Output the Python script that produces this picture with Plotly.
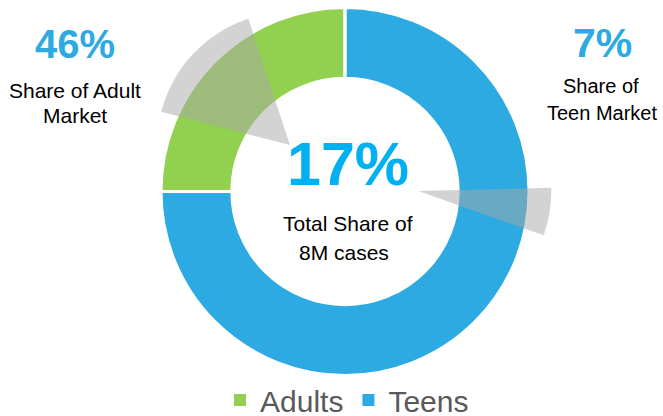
import plotly.graph_objects as go

# ---- data ----
segments = ["Adults", "Teens"]
segment_share = [25, 75]
segment_colors = ["#92D050", "#2DAAE1"]

# gray call-out wedges (share of a full circle, and start angle in degrees clockwise from 12 o'clock)
callout_names = ["Adult market callout", "Teen market callout"]
callout_share = [15.9, 5.8]
callout_start = [284.5, 88.6]

headline_value = "17%"
headline_lines = ["Total Share of", "8M cases"]
adult_value = "46%"
adult_lines = ["Share of Adult", "Market"]
teen_value = "7%"
teen_lines = ["Share of", "Teen Market"]

# ---- layout constants (pixels) ----
W, H = 663, 416
FONT = "Arial, 'Liberation Sans', sans-serif"


def dom(cx, cy, r):
    return dict(x=[(cx - r) / W, (cx + r) / W], y=[(H - cy - r) / H, (H - cy + r) / H])


fig = go.Figure()

main_dom = dom(345, 191.5, 184)
fig.add_trace(go.Pie(
    labels=segments, values=segment_share, sort=False, direction="clockwise",
    rotation=270, hole=0.615, textinfo="none", hoverinfo="skip",
    marker=dict(colors=segment_colors, line=dict(width=0)),
    domain=main_dom, showlegend=True,
))
# white separators between the slices
fig.add_trace(go.Pie(
    labels=[s + " edge" for s in segments], values=segment_share, sort=False, direction="clockwise",
    rotation=270, hole=0.615, textinfo="none", hoverinfo="skip",
    marker=dict(colors=["rgba(0,0,0,0)"] * len(segments), line=dict(color="white", width=3)),
    domain=main_dom, showlegend=False,
))

callout_geom = [(290, 145, 133), (418.3, 191, 133)]
for name, share, start, (cx, cy, r) in zip(callout_names, callout_share, callout_start, callout_geom):
    fig.add_trace(go.Pie(
        labels=[name, name + " rest"], values=[share, 100 - share], sort=False,
        direction="clockwise", rotation=start, textinfo="none", hoverinfo="skip",
        marker=dict(colors=["rgba(167,167,167,0.5)", "rgba(0,0,0,0)"], line=dict(width=0)),
        domain=dom(cx, cy, r), showlegend=False,
    ))


def ann(text, x, y, size, color, bold=False):
    fig.add_annotation(
        text=f"<b>{text}</b>" if bold else text, x=x / W, y=1 - y / H, xref="paper", yref="paper",
        xanchor="center", yanchor="middle", showarrow=False,
        font=dict(family=FONT, size=size, color=color),
    )


ann(headline_value, 348, 164.2, 61, "#00B0F0", bold=True)
ann(headline_lines[0], 348, 223, 21, "#000000")
ann(headline_lines[1], 344, 252.5, 21, "#000000")

ann(adult_value, 75, 43.5, 40, "#2DAAE1", bold=True)
ann(adult_lines[0], 75, 90, 21, "#000000")
ann(adult_lines[1], 75, 115.3, 21, "#000000")

ann(teen_value, 602, 43.3, 41, "#2DAAE1", bold=True)
ann(teen_lines[0], 601, 85.7, 20, "#000000")
ann(teen_lines[1], 601.5, 113, 20, "#000000")

fig.update_layout(
    width=W, height=H, margin=dict(l=0, r=0, t=0, b=0, autoexpand=False),
    paper_bgcolor="white", plot_bgcolor="white",
    font=dict(family=FONT),
    legend=dict(orientation="h", x=347 / W, xanchor="center", y=1 - 400 / H, yanchor="middle",
                font=dict(size=30, color="#595959", family=FONT), bgcolor="rgba(0,0,0,0)"),
)

fig.write_html("out.html", config={"displayModeBar": False},
               post_script="document.body.style.margin='0';document.body.style.overflow='hidden';")
